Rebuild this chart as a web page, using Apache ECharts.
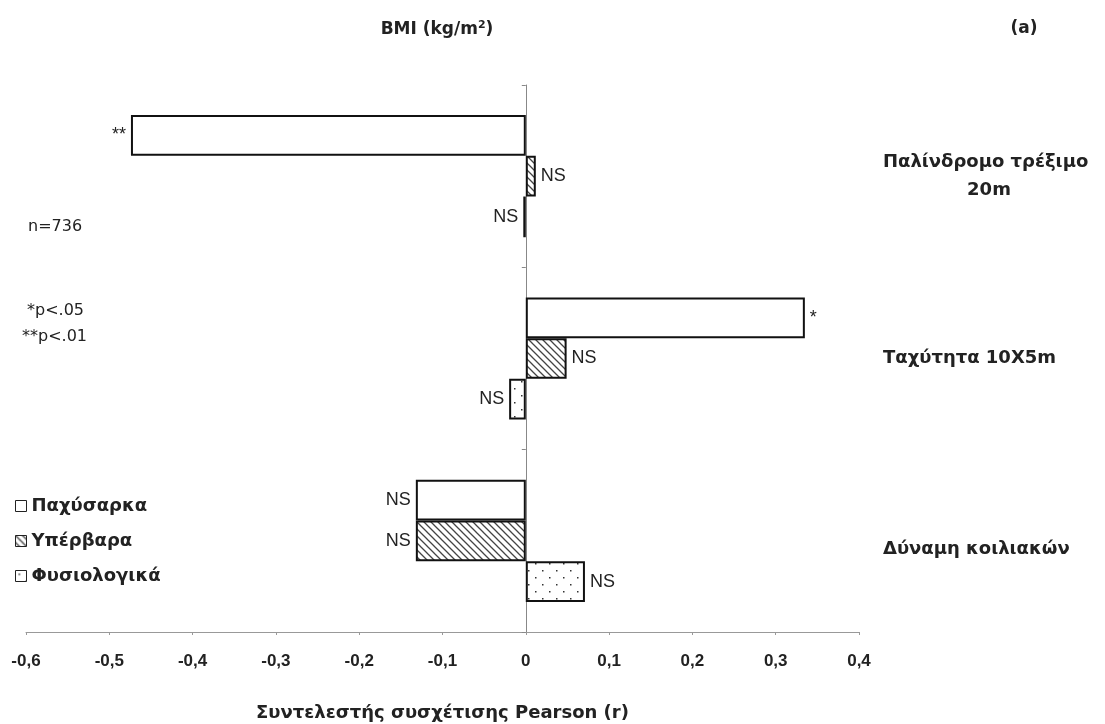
<!DOCTYPE html>
<html>
<head>
<meta charset="utf-8">
<script src="https://cdn.jsdelivr.net/npm/echarts@6/dist/echarts.min.js"></script>
<style>html,body{margin:0;padding:0;background:#fff}#c{width:1105px;height:724px}</style>
</head>
<body>
<div id="c"></div>
<script>
const categories = ['Παλίνδρομο τρέξιμο\n20m', 'Ταχύτητα 10X5m', 'Δύναμη κοιλιακών'];
const seriesNames = ['Παχύσαρκα', 'Υπέρβαρα', 'Φυσιολογικά'];
const obeseValues = [-0.474, 0.335, -0.132];
const overweightValues = [0.012, 0.049, -0.132];
const normalValues = [-0.003, -0.02, 0.071];
const obeseSig = ['**', '*', 'NS'];
const overweightSig = ['NS', 'NS', 'NS'];
const normalSig = ['NS', 'NS', 'NS'];
const xTicks = { min: -0.6, max: 0.4, interval: 0.1 };

const FONT = '"DejaVu Sans", Verdana, sans-serif';
const FONT2 = '"Liberation Sans", Arial, sans-serif';

function hatchPattern() {
  const s = 7, c = document.createElement('canvas');
  c.width = s; c.height = s;
  const g = c.getContext('2d');
  g.fillStyle = '#fff'; g.fillRect(0, 0, s, s);
  g.strokeStyle = '#444'; g.lineWidth = 1.3;
  g.beginPath();
  g.moveTo(0, 0); g.lineTo(s, s);
  g.moveTo(-s, 0); g.lineTo(s, 2 * s);
  g.moveTo(0, -s); g.lineTo(2 * s, s);
  g.stroke();
  return { image: c, repeat: 'repeat' };
}
function dotPattern() {
  const s = 14, c = document.createElement('canvas');
  c.width = s; c.height = s;
  const g = c.getContext('2d');
  g.fillStyle = '#fff'; g.fillRect(0, 0, s, s);
  g.fillStyle = '#333';
  g.fillRect(3, 3, 1.5, 1.5);
  g.fillRect(10, 10, 1.5, 1.5);
  return { image: c, repeat: 'repeat' };
}

function items(vals, sig) {
  return vals.map((v, i) => ({
    value: v,
    label: { position: v < 0 ? 'left' : 'right', formatter: sig[i] }
  }));
}

const labelStyle = { show: true, color: '#222', fontSize: 18, fontFamily: FONT2, distance: 5 };
const fills = ['#ffffff', hatchPattern(), dotPattern()];
const valueSets = [obeseValues, overweightValues, normalValues];
const sigSets = [obeseSig, overweightSig, normalSig];
// last category label sits a little lower in the original
const catLabelShift = [0, 0, 16];

const chart = echarts.init(document.getElementById('c'));
chart.setOption({
  backgroundColor: '#fff',
  animation: false,
  title: [
    { text: 'BMI (kg/m{sup|2})', left: 432, top: 15, textAlign: 'center',
      textStyle: { fontFamily: FONT, fontSize: 17, fontWeight: 'bold', color: '#222',
        rich: { sup: { fontSize: 11, fontWeight: 'bold', verticalAlign: 'top', padding: [0, 0, 9, 0], fontFamily: FONT, color: '#222' } } } },
    { text: '(a)', left: 1019, top: 15, textAlign: 'center',
      textStyle: { fontFamily: FONT, fontSize: 17, fontWeight: 'bold', color: '#222' } }
  ],
  legend: {
    orient: 'vertical', left: 10, top: 492, itemGap: 17, itemWidth: 11, itemHeight: 11, icon: 'rect',
    data: seriesNames,
    itemStyle: { borderWidth: 1, borderColor: '#222' },
    textStyle: { fontFamily: FONT, fontSize: 18, fontWeight: 'bold', color: '#222' }
  },
  grid: { left: 26, right: 246, top: 85, bottom: 92, containLabel: false, outerBoundsMode: 'none' },
  xAxis: {
    type: 'value', min: xTicks.min, max: xTicks.max, interval: xTicks.interval,
    splitLine: { show: false },
    axisLine: { show: true, onZero: false, lineStyle: { color: '#999', width: 1 } },
    axisTick: { show: true, length: 3, lineStyle: { color: '#999' } },
    axisLabel: { margin: 21, color: '#222', fontFamily: FONT2, fontSize: 17, fontWeight: 'bold',
      formatter: v => String(+(+v).toFixed(1)).replace('.', ',') },
    name: 'Συντελεστής συσχέτισης Pearson (r)', nameLocation: 'middle', nameGap: 72,
    nameTextStyle: { fontFamily: FONT, fontSize: 18, fontWeight: 'bold', color: '#222' }
  },
  yAxis: {
    type: 'category', inverse: true, position: 'right',
    data: categories.map((c, i) => ({ value: c, textStyle: { padding: [catLabelShift[i], 0, 0, 0] } })),
    axisLine: { show: true, onZero: true, lineStyle: { color: '#888', width: 1 } },
    axisTick: { show: true, inside: true, length: 4, lineStyle: { color: '#888' } },
    axisLabel: {
      margin: 24, align: 'left', color: '#222', fontFamily: FONT, fontSize: 18, fontWeight: 'bold', lineHeight: 28,
      formatter: val => {
        const p = val.split('\n');
        return p.length > 1 ? p[0] + '\n{c|' + p[1] + '}' : val;
      },
      rich: { c: { width: 212, align: 'center', fontFamily: FONT, fontSize: 18, fontWeight: 'bold', color: '#222', lineHeight: 28 } }
    }
  },
  graphic: [
    { type: 'text', left: 28, top: 219, style: { text: 'n=736', font: '16px ' + FONT, fill: '#222' } },
    { type: 'text', left: 27, top: 303, style: { text: '*p<.05', font: '16px ' + FONT, fill: '#222' } },
    { type: 'text', left: 22, top: 329, style: { text: '**p<.01', font: '16px ' + FONT, fill: '#222' } }
  ],
  series: seriesNames.map((name, k) => ({
    name, type: 'bar', barGap: '0%', barCategoryGap: '33%',
    data: items(valueSets[k], sigSets[k]),
    itemStyle: { color: fills[k], borderColor: '#111', borderWidth: 2 },
    label: labelStyle
  }))
});
</script>
</body>
</html>
